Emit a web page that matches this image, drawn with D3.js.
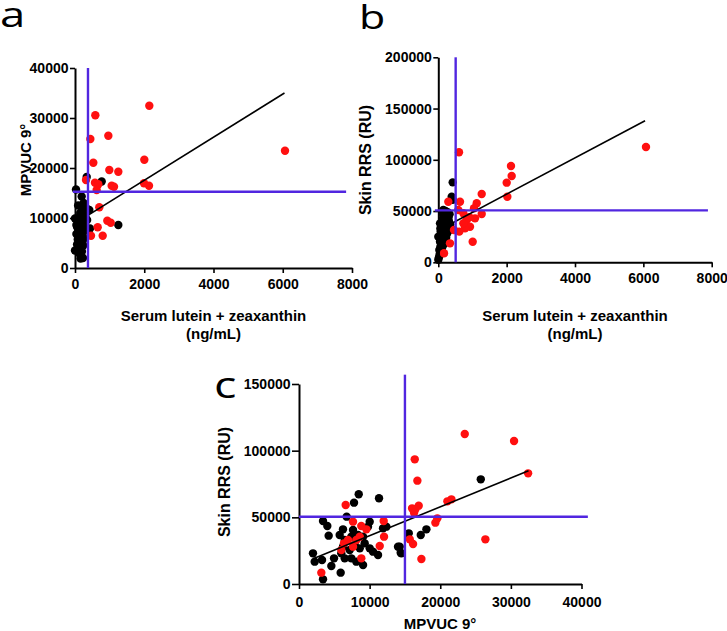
<!DOCTYPE html>
<html><head><meta charset="utf-8">
<script src="https://cdn.jsdelivr.net/npm/d3@7"></script>
<style>body{margin:0;background:#fff}svg{display:block}</style>
</head><body><svg id="chart" width="727" height="631"></svg>
<script>
// ---------- DATA ----------
// Panel a: serum L+Z (ng/mL) vs MPVUC 9°
const aBlack = [[29,15700],[193,14300],[240,12300],[300,11500],[210,11800],[150,11000],[260,10900],[95,10000],[0,9900],[180,9600],[230,9300],[120,9000],[280,8800],[160,8500],[60,8200],[210,7900],[433,7900],[100,7500],[250,7300],[170,7000],[40,6800],[200,6500],[130,6200],[270,6000],[80,5700],[220,5400],[150,5000],[60,4700],[240,4500],[180,4200],[110,3900],[0,3500],[200,3300],[130,2900],[193,2300],[230,2000],[160,1900],[300,10300],[320,12000],[350,9600],[413,11600],[338,18200],[771,17300],[1251,8600],[90,12500],[250,13000],[150,9700],[40,8600]];
const aRed = [[2146,32460],[587,30540],[963,26460],[443,25800],[529,21060],[2002,21660],[991,19600],[1251,19260],[318,17600],[577,17060],[673,16740],[626,15600],[1059,16460],[1126,16260],[1993,16940],[2137,16460],[702,12140],[933,9460],[1031,9060],[655,8140],[800,6460],[462,6460],[6065,23460]];
// Panel b: serum L+Z (ng/mL) vs Skin RRS (RU)
const bBlack = [[0,2500],[20,5000],[40,8000],[30,12000],[60,15000],[80,18000],[50,20000],[100,22000],[0,25000],[120,25000],[90,27000],[150,28000],[70,30000],[180,31000],[130,33000],[200,34000],[100,36000],[240,35000],[50,38000],[160,38000],[260,39000],[220,41000],[280,42000],[140,43000],[300,44000],[190,45000],[250,46000],[330,47000],[120,48000],[146,51000],[270,49000],[310,40000],[350,37000],[200,30000],[230,24000],[170,20000],[110,14000],[260,28000],[360,32000],[392,64000],[421,61000],[421,78000],[761,38000],[210,50000],[300,36000],[80,10000],[60,33000],[150,17000]];
const bRed = [[606,107300],[2127,93950],[2147,84200],[2001,77700],[2020,64000],[1270,66600],[1124,57560],[1045,52700],[1270,47100],[635,59100],[293,59100],[585,51000],[732,47800],[831,41300],[928,34700],[781,33200],[614,29900],[732,38000],[1006,20100],[342,18500],[167,8800],[460,31500],[1074,42900],[907,43900],[6077,112500]];
// Panel c: MPVUC 9° vs Skin RRS (RU)
const cBlack = [[8456,67280],[7790,61000],[11330,64270],[3400,47250],[4010,43500],[6750,50500],[4200,36250],[6230,41000],[5760,36750],[7650,40500],[8360,36750],[9070,35500],[10010,46750],[9770,43000],[9300,30500],[10010,26750],[11190,21750],[12370,43000],[11900,41750],[14020,28000],[14500,23000],[1980,23000],[2220,16750],[3260,18000],[4580,13500],[4960,19250],[5990,23000],[6470,19250],[7410,19250],[8120,16750],[9070,14250],[5900,8500],[3400,3500],[6230,28000],[7890,29250],[8600,26750],[7410,35500],[6470,33000],[7180,25500],[10480,24250],[15540,38000],[17240,36750],[18040,41000],[25740,78500],[14260,28000],[14400,23500]];
const cRed = [[23470,112500],[30450,107250],[16390,93500],[32440,83000],[16760,77500],[16950,58750],[16010,56750],[16480,56000],[16290,53500],[21010,62000],[21580,63500],[19590,49250],[19310,46000],[15680,33500],[16150,30000],[26390,33500],[17330,18750],[6610,59250],[7650,46750],[11990,47250],[12040,35500],[11430,28500],[8820,43500],[9540,41000],[6370,30500],[6940,33000],[8120,33000],[8600,35500],[7650,28000],[8820,19250],[3160,8500],[5990,25500]];

// axis ticks
const abXTicks = [0,2000,4000,6000,8000];
const aYTicks = [0,10000,20000,30000,40000];
const bYTicks = [0,50000,100000,150000,200000];
const cXTicks = [0,10000,20000,30000,40000];
const cYTicks = [0,50000,100000,150000];

// linear fits: [intercept, slope, xStart, xEnd]
const aFit = [8930, 4.31, 0, 6050];
const bFit = [31080, 17.7, 0, 6050];
const cFit = [14526, 2.167, 2000, 32500];

// cut-off lines: [xCut, yCut, vLineTop, hLineStart, hLineEnd]
const aCut = [375, 15250, 40000, -60, 7830];
const bCut = [508, 50700, 200000, -100, 7890];
const cCut = [15000, 50480, 157000, 0, 40900];

// ---------- DRAW ----------
const svg = d3.select("#chart");
const FONT = "'Liberation Sans', Arial, Helvetica, sans-serif";
const PURPLE = "#5126e0";
const RED = "#ff1010";

function panel(cfg) {
  const g = svg.append("g");
  const x = d3.scaleLinear().domain(cfg.xDomain).range(cfg.xRange);
  const y = d3.scaleLinear().domain(cfg.yDomain).range(cfg.yRange);

  const dots = g.append("g");
  dots.selectAll("circle.k").data(cfg.black).join("circle")
    .attr("cx", d => x(d[0])).attr("cy", d => y(d[1])).attr("r", 4.2).attr("fill", "#000");
  dots.selectAll("circle.r").data(cfg.red).join("circle")
    .attr("cx", d => x(d[0])).attr("cy", d => y(d[1])).attr("r", 4.2).attr("fill", RED);

  const f = cfg.fit;
  g.append("line")
    .attr("x1", x(f[2])).attr("y1", y(f[0] + f[1] * f[2]))
    .attr("x2", x(f[3])).attr("y2", y(f[0] + f[1] * f[3]))
    .attr("stroke", "#000").attr("stroke-width", 1.6);

  const xa = g.append("g").attr("transform", `translate(0,${y(0)})`)
    .call(d3.axisBottom(x).tickValues(cfg.xTicks).tickFormat(d3.format("d"))
      .tickSizeInner(5).tickSizeOuter(0).tickPadding(cfg.xPad));
  const ya = g.append("g").attr("transform", `translate(${x(0)},0)`)
    .call(d3.axisLeft(y).tickValues(cfg.yTicks).tickFormat(d3.format("d"))
      .tickSizeInner(cfg.yTick).tickSizeOuter(0).tickPadding(1.5));
  [xa, ya].forEach(a => {
    a.select(".domain").attr("stroke-width", 2);
    a.selectAll(".tick line").attr("stroke-width", 1.6);
    a.selectAll("text").attr("font-family", FONT).attr("font-weight", "bold")
      .attr("font-size", 14).attr("fill", "#000");
  });

  const c = cfg.cut;
  g.append("line").attr("x1", x(c[0])).attr("x2", x(c[0]))
    .attr("y1", y(0)).attr("y2", y(c[2]))
    .attr("stroke", PURPLE).attr("stroke-width", 2.4);
  g.append("line").attr("x1", x(c[3])).attr("x2", x(c[4]))
    .attr("y1", y(c[1])).attr("y2", y(c[1]))
    .attr("stroke", PURPLE).attr("stroke-width", 2.4);

  g.append("text")
    .attr("transform", `translate(${cfg.yTitlePos[0]},${cfg.yTitlePos[1]}) rotate(-90)`)
    .attr("text-anchor", "middle").attr("font-family", FONT).attr("font-weight", "bold")
    .attr("font-size", cfg.yTitleSize).text(cfg.yTitle);
  cfg.xTitle.forEach((t, i) => {
    g.append("text").attr("x", cfg.xTitlePos[0]).attr("y", cfg.xTitlePos[1] + i * 18)
      .attr("text-anchor", "middle").attr("font-family", FONT).attr("font-weight", "bold")
      .attr("font-size", 15).text(t);
  });
  g.append("text")
    .attr("transform", `translate(${cfg.letterPos[0]},${cfg.letterPos[1]}) scale(1.3,1)`)
    .attr("font-family", "'Open Sans', 'DejaVu Sans', sans-serif")
    .attr("font-size", cfg.letterSize).text(cfg.letter);
}

panel({
  xDomain: [0, 8000], xRange: [75, 352], yDomain: [0, 40000], yRange: [268, 68],
  black: aBlack, red: aRed, fit: aFit, cut: aCut,
  xTicks: abXTicks, yTicks: aYTicks, xPad: 6, yTick: 5,
  yTitle: "MPVUC 9°", yTitleSize: 15, yTitlePos: [31, 160],
  xTitle: ["Serum lutein + zeaxanthin", "(ng/mL)"], xTitlePos: [213.5, 321],
  letter: "a", letterPos: [0, 27], letterSize: 35
});
panel({
  xDomain: [0, 8000], xRange: [438.3, 711.7], yDomain: [0, 200000], yRange: [262.3, 57.3],
  black: bBlack, red: bRed, fit: bFit, cut: bCut,
  xTicks: abXTicks, yTicks: bYTicks, xPad: 6, yTick: 5,
  yTitle: "Skin RRS (RU)", yTitleSize: 16, yTitlePos: [371, 160],
  xTitle: ["Serum lutein + zeaxanthin", "(ng/mL)"], xTitlePos: [575, 321],
  letter: "b", letterPos: [359, 29], letterSize: 33
});
panel({
  xDomain: [0, 40000], xRange: [299, 581.5], yDomain: [0, 150000], yRange: [584, 384],
  black: cBlack, red: cRed, fit: cFit, cut: cCut,
  xTicks: cXTicks, yTicks: cYTicks, xPad: 8, yTick: 7,
  yTitle: "Skin RRS (RU)", yTitleSize: 16, yTitlePos: [230, 482],
  xTitle: ["MPVUC 9°"], xTitlePos: [440, 629],
  letter: "c", letterPos: [214, 398], letterSize: 36
});
</script></body></html>
